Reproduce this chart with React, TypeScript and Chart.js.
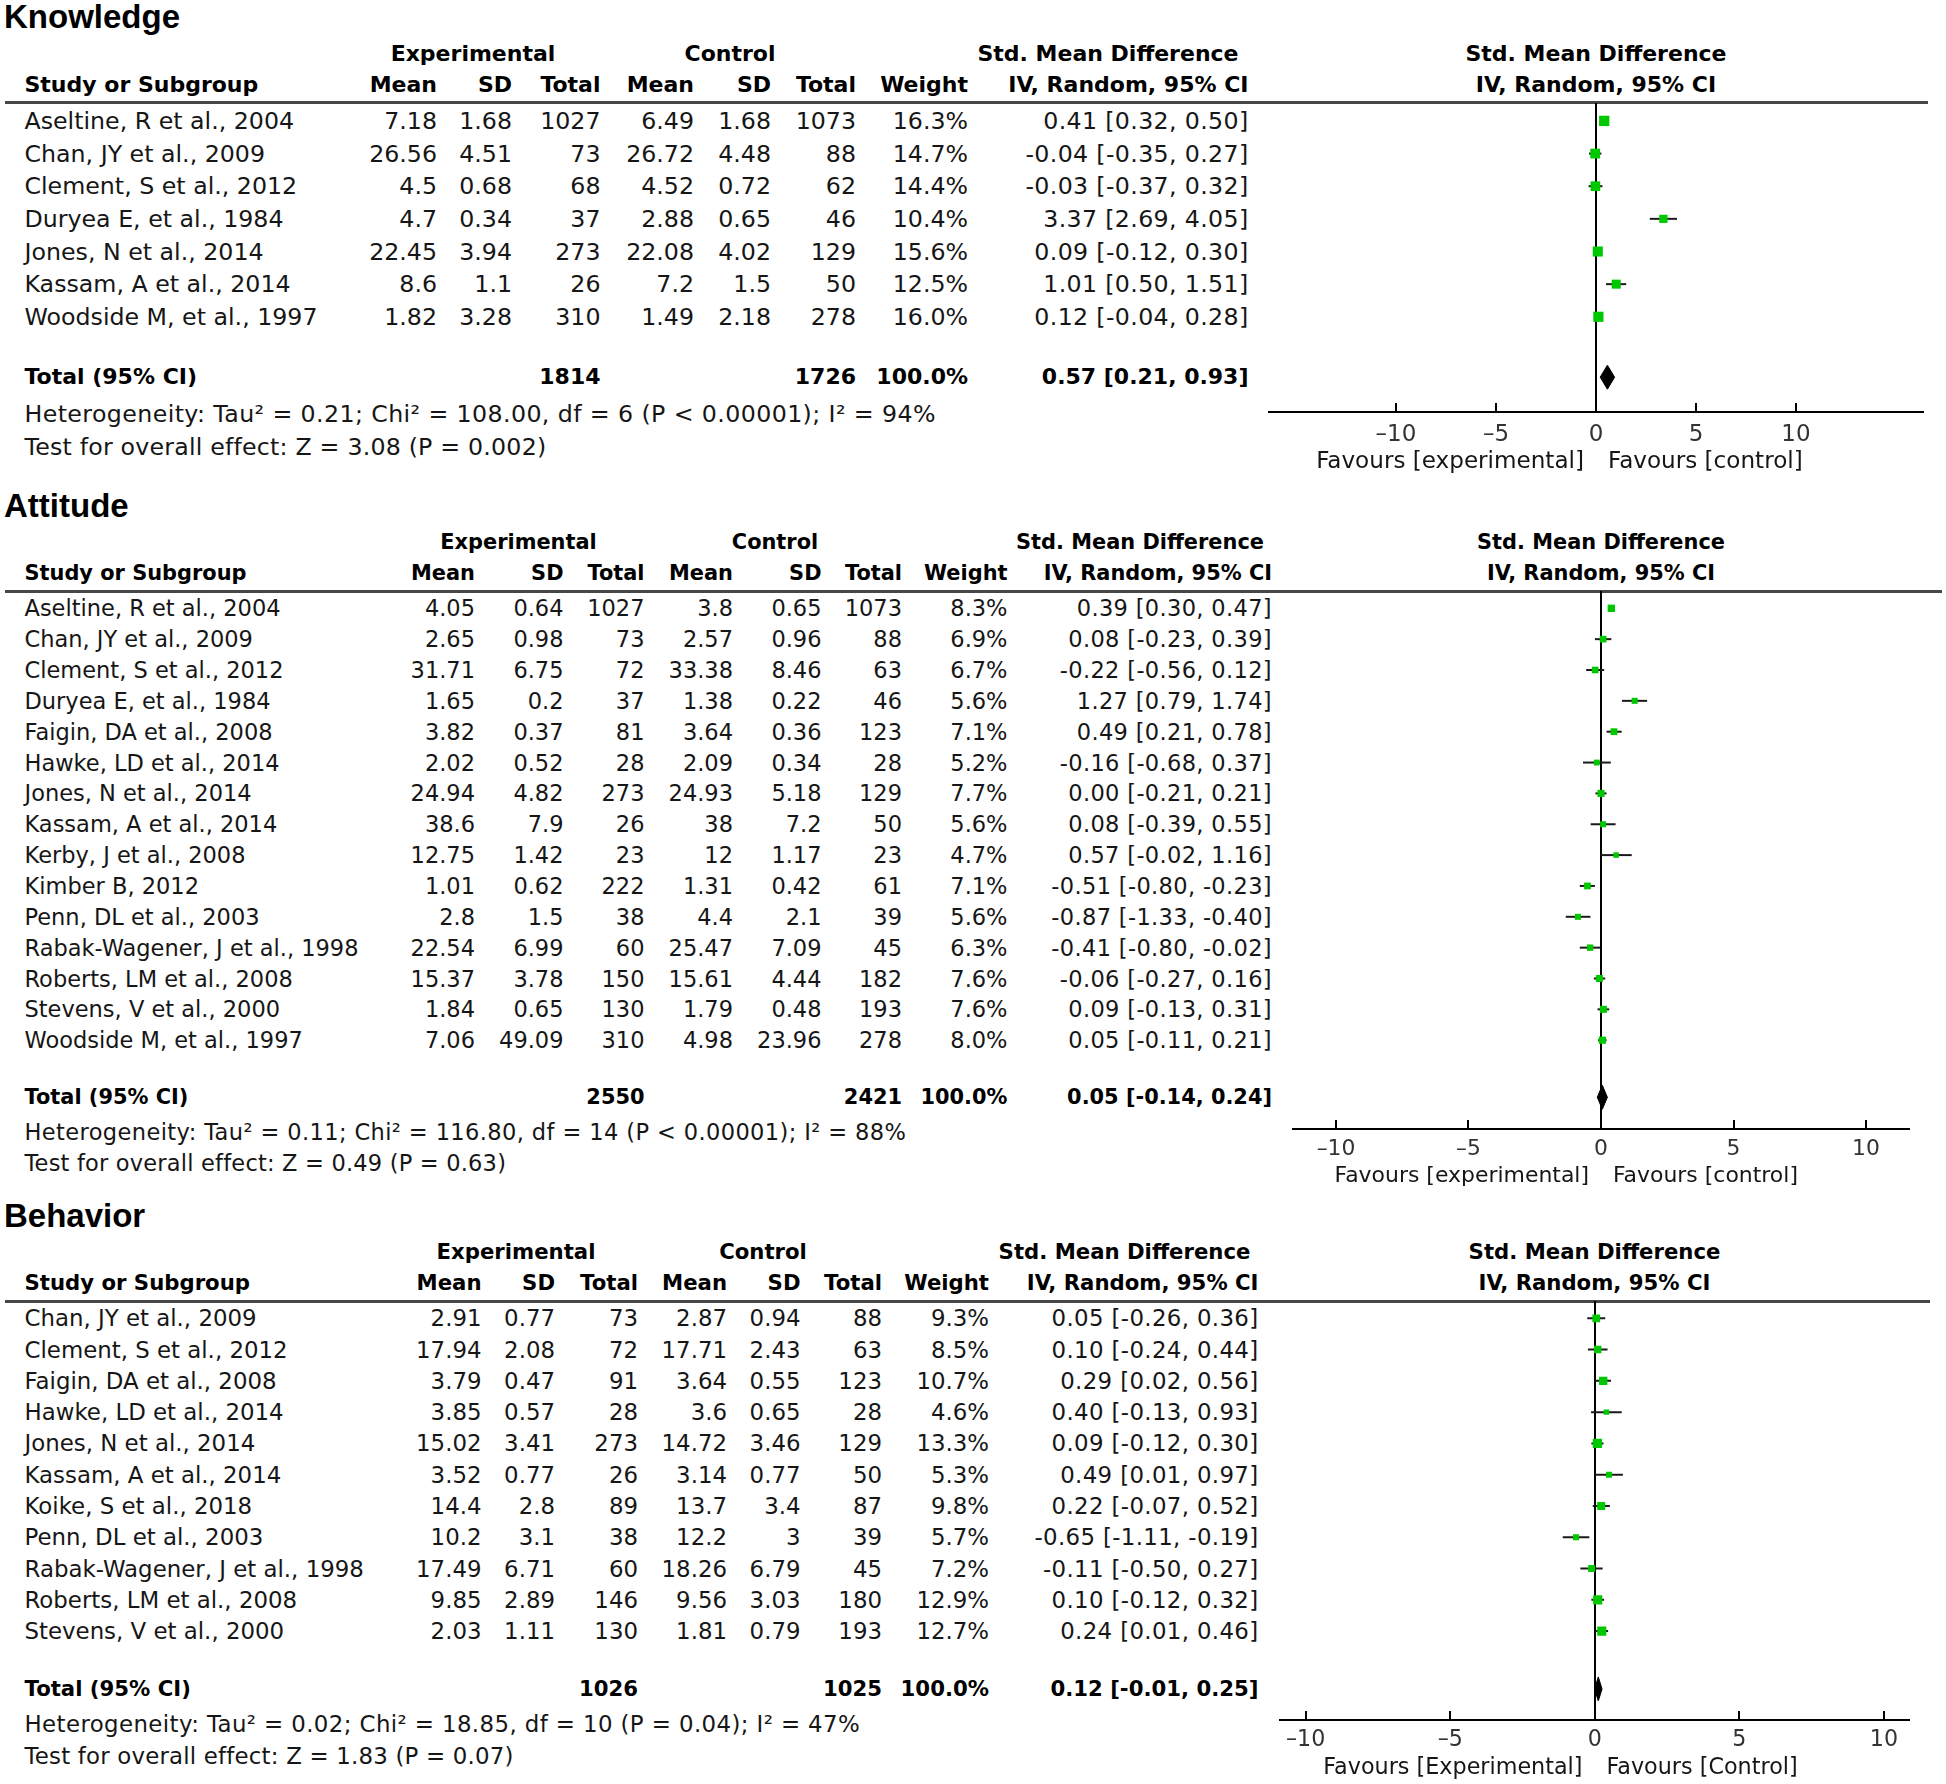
import React, { useEffect, useRef } from "react";
import { Chart, registerables } from "chart.js";

Chart.register(...registerables);

// ---------------- Knowledge ----------------
const knowStudies = [
  "Aseltine, R et al., 2004",
  "Chan, JY et al., 2009",
  "Clement, S et al., 2012",
  "Duryea E, et al., 1984",
  "Jones, N et al., 2014",
  "Kassam, A et al., 2014",
  "Woodside M, et al., 1997",
];
const knowExpMean = [7.18, 26.56, 4.5, 4.7, 22.45, 8.6, 1.82];
const knowExpSD = [1.68, 4.51, 0.68, 0.34, 3.94, 1.1, 3.28];
const knowExpN = [1027, 73, 68, 37, 273, 26, 310];
const knowCtlMean = [6.49, 26.72, 4.52, 2.88, 22.08, 7.2, 1.49];
const knowCtlSD = [1.68, 4.48, 0.72, 0.65, 4.02, 1.5, 2.18];
const knowCtlN = [1073, 88, 62, 46, 129, 50, 278];
const knowWeight = [16.3, 14.7, 14.4, 10.4, 15.6, 12.5, 16.0];
const knowSmd = [0.41, -0.04, -0.03, 3.37, 0.09, 1.01, 0.12];
const knowLo = [0.32, -0.35, -0.37, 2.69, -0.12, 0.5, -0.04];
const knowHi = [0.5, 0.27, 0.32, 4.05, 0.3, 1.51, 0.28];
const knowTotal = { expN: 1814, ctlN: 1726, weight: 100.0, smd: 0.57, lo: 0.21, hi: 0.93 };
const knowHet = "Heterogeneity: Tau\u00b2 = 0.21; Chi\u00b2 = 108.00, df = 6 (P < 0.00001); I\u00b2 = 94%";
const knowTest = "Test for overall effect: Z = 3.08 (P = 0.002)";
const knowFav = ["Favours [experimental]", "Favours [control]"];

// ---------------- Attitude ----------------
const attStudies = [
  "Aseltine, R et al., 2004",
  "Chan, JY et al., 2009",
  "Clement, S et al., 2012",
  "Duryea E, et al., 1984",
  "Faigin, DA et al., 2008",
  "Hawke, LD et al., 2014",
  "Jones, N et al., 2014",
  "Kassam, A et al., 2014",
  "Kerby, J et al., 2008",
  "Kimber B, 2012",
  "Penn, DL et al., 2003",
  "Rabak-Wagener, J et al., 1998",
  "Roberts, LM et al., 2008",
  "Stevens, V et al., 2000",
  "Woodside M, et al., 1997",
];
const attExpMean = [4.05, 2.65, 31.71, 1.65, 3.82, 2.02, 24.94, 38.6, 12.75, 1.01, 2.8, 22.54, 15.37, 1.84, 7.06];
const attExpSD = [0.64, 0.98, 6.75, 0.2, 0.37, 0.52, 4.82, 7.9, 1.42, 0.62, 1.5, 6.99, 3.78, 0.65, 49.09];
const attExpN = [1027, 73, 72, 37, 81, 28, 273, 26, 23, 222, 38, 60, 150, 130, 310];
const attCtlMean = [3.8, 2.57, 33.38, 1.38, 3.64, 2.09, 24.93, 38, 12, 1.31, 4.4, 25.47, 15.61, 1.79, 4.98];
const attCtlSD = [0.65, 0.96, 8.46, 0.22, 0.36, 0.34, 5.18, 7.2, 1.17, 0.42, 2.1, 7.09, 4.44, 0.48, 23.96];
const attCtlN = [1073, 88, 63, 46, 123, 28, 129, 50, 23, 61, 39, 45, 182, 193, 278];
const attWeight = [8.3, 6.9, 6.7, 5.6, 7.1, 5.2, 7.7, 5.6, 4.7, 7.1, 5.6, 6.3, 7.6, 7.6, 8.0];
const attSmd = [0.39, 0.08, -0.22, 1.27, 0.49, -0.16, 0.0, 0.08, 0.57, -0.51, -0.87, -0.41, -0.06, 0.09, 0.05];
const attLo = [0.3, -0.23, -0.56, 0.79, 0.21, -0.68, -0.21, -0.39, -0.02, -0.8, -1.33, -0.8, -0.27, -0.13, -0.11];
const attHi = [0.47, 0.39, 0.12, 1.74, 0.78, 0.37, 0.21, 0.55, 1.16, -0.23, -0.4, -0.02, 0.16, 0.31, 0.21];
const attTotal = { expN: 2550, ctlN: 2421, weight: 100.0, smd: 0.05, lo: -0.14, hi: 0.24 };
const attHet = "Heterogeneity: Tau\u00b2 = 0.11; Chi\u00b2 = 116.80, df = 14 (P < 0.00001); I\u00b2 = 88%";
const attTest = "Test for overall effect: Z = 0.49 (P = 0.63)";
const attFav = ["Favours [experimental]", "Favours [control]"];

// ---------------- Behavior ----------------
const behStudies = [
  "Chan, JY et al., 2009",
  "Clement, S et al., 2012",
  "Faigin, DA et al., 2008",
  "Hawke, LD et al., 2014",
  "Jones, N et al., 2014",
  "Kassam, A et al., 2014",
  "Koike, S et al., 2018",
  "Penn, DL et al., 2003",
  "Rabak-Wagener, J et al., 1998",
  "Roberts, LM et al., 2008",
  "Stevens, V et al., 2000",
];
const behExpMean = [2.91, 17.94, 3.79, 3.85, 15.02, 3.52, 14.4, 10.2, 17.49, 9.85, 2.03];
const behExpSD = [0.77, 2.08, 0.47, 0.57, 3.41, 0.77, 2.8, 3.1, 6.71, 2.89, 1.11];
const behExpN = [73, 72, 91, 28, 273, 26, 89, 38, 60, 146, 130];
const behCtlMean = [2.87, 17.71, 3.64, 3.6, 14.72, 3.14, 13.7, 12.2, 18.26, 9.56, 1.81];
const behCtlSD = [0.94, 2.43, 0.55, 0.65, 3.46, 0.77, 3.4, 3, 6.79, 3.03, 0.79];
const behCtlN = [88, 63, 123, 28, 129, 50, 87, 39, 45, 180, 193];
const behWeight = [9.3, 8.5, 10.7, 4.6, 13.3, 5.3, 9.8, 5.7, 7.2, 12.9, 12.7];
const behSmd = [0.05, 0.1, 0.29, 0.4, 0.09, 0.49, 0.22, -0.65, -0.11, 0.1, 0.24];
const behLo = [-0.26, -0.24, 0.02, -0.13, -0.12, 0.01, -0.07, -1.11, -0.5, -0.12, 0.01];
const behHi = [0.36, 0.44, 0.56, 0.93, 0.3, 0.97, 0.52, -0.19, 0.27, 0.32, 0.46];
const behTotal = { expN: 1026, ctlN: 1025, weight: 100.0, smd: 0.12, lo: -0.01, hi: 0.25 };
const behHet = "Heterogeneity: Tau\u00b2 = 0.02; Chi\u00b2 = 18.85, df = 10 (P = 0.04); I\u00b2 = 47%";
const behTest = "Test for overall effect: Z = 1.83 (P = 0.07)";
const behFav = ["Favours [Experimental]", "Favours [Control]"];

// axis tick values
const tickValues = [-10, -5, 0, 5, 10];
const groupHeaders = ["Experimental", "Control", "Std. Mean Difference"];
const colHeaders = ["Mean", "SD", "Total", "Mean", "SD", "Total", "Weight", "IV, Random, 95% CI"];

// ---------------- styling / layout ----------------
const PAGE_W = 1946;
const PAGE_H = 1784;
const FONT = '"DejaVu Sans", Verdana, sans-serif';
const TITLE_FONT = '"Liberation Sans", Arial, Helvetica, sans-serif';
const REG = 23.7;
const BOLD = 22;
const FAV = 23.1;
const TICK = 23;
const GREEN = "#00c800";
const CI_COLOR = "#1a1a1a";
const TOTAL_GAP = 1.85;
const SQUARE_K = 2.55;
const DIAMOND_HALF = 12;
const AXIS_EXTRA = 44;

type Dat = {
  studies: string[];
  expMean: number[];
  expSD: number[];
  expN: number[];
  ctlMean: number[];
  ctlSD: number[];
  ctlN: number[];
  weight: number[];
  smd: number[];
  lo: number[];
  hi: number[];
  total: { expN: number; ctlN: number; weight: number; smd: number; lo: number; hi: number };
  het: string;
  test: string;
  fav: string[];
};

type Lay = {
  fs: number;
  lineY: number;
  lineRight: number;
  row0: number;
  rowH: number;
  axisY: number;
  axisLeft: number;
  axisRight: number;
  xMin: number;
  xMax: number;
  tickPad: number;
  favOff: number;
  grp: number[];
  cols: number[];
};

const knowData: Dat = {
  studies: knowStudies, expMean: knowExpMean, expSD: knowExpSD, expN: knowExpN,
  ctlMean: knowCtlMean, ctlSD: knowCtlSD, ctlN: knowCtlN, weight: knowWeight,
  smd: knowSmd, lo: knowLo, hi: knowHi, total: knowTotal, het: knowHet, test: knowTest, fav: knowFav,
};
const attData: Dat = {
  studies: attStudies, expMean: attExpMean, expSD: attExpSD, expN: attExpN,
  ctlMean: attCtlMean, ctlSD: attCtlSD, ctlN: attCtlN, weight: attWeight,
  smd: attSmd, lo: attLo, hi: attHi, total: attTotal, het: attHet, test: attTest, fav: attFav,
};
const behData: Dat = {
  studies: behStudies, expMean: behExpMean, expSD: behExpSD, expN: behExpN,
  ctlMean: behCtlMean, ctlSD: behCtlSD, ctlN: behCtlN, weight: behWeight,
  smd: behSmd, lo: behLo, hi: behHi, total: behTotal, het: behHet, test: behTest, fav: behFav,
};

const knowLay: Lay = {
  fs: 1.0,
  lineY: 102.5, lineRight: 1928, row0: 120.9, rowH: 32.65, axisY: 412,
  axisLeft: 1268, axisRight: 1924, xMin: -16.4, xMax: 16.4, tickPad: 9, favOff: 47.5,
  grp: [473, 730, 1108],
  cols: [437, 512, 600.5, 694, 771, 856, 968, 1248.5],
};
const attLay: Lay = {
  fs: 0.95,
  lineY: 591, lineRight: 1942, row0: 608.3, rowH: 30.85, axisY: 1129,
  axisLeft: 1292, axisRight: 1910, xMin: -11.66, xMax: 11.66, tickPad: 7, favOff: 46,
  grp: [518.5, 775, 1140],
  cols: [475, 563.5, 644.5, 733, 821.5, 902, 1007.5, 1272],
};
const behLay: Lay = {
  fs: 0.965,
  lineY: 1301, lineRight: 1930, row0: 1318.3, rowH: 31.28, axisY: 1720,
  axisLeft: 1279, axisRight: 1910, xMin: -10.9, xMax: 10.9, tickPad: 7, favOff: 46,
  grp: [516, 763, 1124.5],
  cols: [481.5, 555, 638, 727, 800.5, 882, 989, 1258.5],
};

const f2 = (v: number) => v.toFixed(2);
const ciText = (m: number, l: number, h: number) => `${f2(m)} [${f2(l)}, ${f2(h)}]`;
const tickText = (v: number) => (v < 0 ? "\u2013" + String(-v) : String(v));

type TProps = {
  x: number;
  y: number;
  align?: "left" | "right" | "center";
  bold?: boolean;
  size: number;
  family?: string;
  color?: string;
  ls?: number;
  children: React.ReactNode;
};

function T({ x, y, align = "left", bold = false, size, family, color, ls, children }: TProps) {
  const H = 40;
  const style: React.CSSProperties = {
    position: "absolute",
    top: y - H / 2,
    height: H,
    lineHeight: H + "px",
    whiteSpace: "pre",
    fontFamily: family || FONT,
    fontSize: size,
    fontWeight: bold ? "bold" : "normal",
    color: color || (bold ? "#000" : "#161616"),
    letterSpacing: ls ? ls + "px" : undefined,
  };
  if (align === "left") style.left = x;
  else if (align === "right") style.right = PAGE_W - x;
  else {
    style.left = x - 500;
    style.width = 1000;
    style.textAlign = "center";
  }
  return <div style={style}>{children}</div>;
}

const tickMarks = {
  id: "tickMarks",
  afterDraw(chart: any) {
    const s = chart.scales.x;
    const ctx = chart.ctx;
    const yb = chart.chartArea.bottom;
    ctx.save();
    ctx.strokeStyle = "#000";
    ctx.lineWidth = 2;
    tickValues.forEach((v) => {
      const x = Math.round(s.getPixelForValue(v));
      ctx.beginPath();
      ctx.moveTo(x, yb);
      ctx.lineTo(x, yb - 9);
      ctx.stroke();
    });
    ctx.restore();
  },
};

function Forest({ d, L }: { d: Dat; L: Lay }) {
  const ref = useRef<HTMLCanvasElement>(null);
  const top = Math.round(L.lineY);
  const W = L.axisRight - L.axisLeft;
  const H = Math.round(L.axisY - top) + AXIS_EXTRA;

  useEffect(() => {
    if (!ref.current) return;
    const n = d.studies.length;
    const yMin = (top - L.row0) / L.rowH;
    const yMax = (Math.round(L.axisY) - L.row0) / L.rowH;
    const totY = n - 1 + TOTAL_GAP;
    const dh = DIAMOND_HALF / L.rowH;

    const datasets: any[] = d.studies.map((s, i) => ({
      type: "line",
      label: s,
      data: [
        { x: d.lo[i], y: i },
        { x: d.hi[i], y: i },
      ],
      borderColor: CI_COLOR,
      borderWidth: 2,
      pointRadius: 0,
      fill: false,
      order: 2,
    }));
    datasets.push({
      type: "scatter",
      label: "Std. Mean Difference",
      data: d.smd.map((v, i) => ({ x: v, y: i })),
      pointStyle: "rect",
      pointRadius: d.weight.map((w) => (SQUARE_K * Math.sqrt(w)) / Math.SQRT2),
      pointHoverRadius: d.weight.map((w) => (SQUARE_K * Math.sqrt(w)) / Math.SQRT2),
      backgroundColor: GREEN,
      borderColor: GREEN,
      borderWidth: 0,
      order: 1,
    });
    datasets.push({
      type: "line",
      label: "Total (95% CI)",
      data: [
        { x: d.total.lo, y: totY },
        { x: d.total.smd, y: totY - dh },
        { x: d.total.hi, y: totY },
        { x: d.total.smd, y: totY + dh },
        { x: d.total.lo, y: totY },
      ],
      borderColor: "#000",
      backgroundColor: "#000",
      borderWidth: 1,
      pointRadius: 0,
      tension: 0,
      fill: "shape",
      order: 0,
    });

    const chart = new Chart(ref.current, {
      type: "scatter",
      data: { datasets },
      options: {
        animation: false,
        responsive: false,
        devicePixelRatio: 1,
        events: [],
        layout: { padding: 0, autoPadding: false },
        plugins: {
          legend: { display: false },
          tooltip: { enabled: false },
          title: { display: false },
        },
        scales: {
          x: {
            type: "linear",
            position: "bottom",
            min: L.xMin,
            max: L.xMax,
            afterBuildTicks: (s: any) => {
              s.ticks = tickValues.map((v) => ({ value: v }));
            },
            afterFit: (s: any) => {
              s.height = AXIS_EXTRA;
            },
            grid: {
              drawOnChartArea: true,
              drawTicks: false,
              lineWidth: 2,
              color: (c: any) => (c.tick && c.tick.value === 0 ? "#000" : "rgba(0,0,0,0)"),
            },
            border: { display: true, color: "#000", width: 2 },
            ticks: {
              font: { family: FONT, size: TICK * L.fs },
              color: "#333",
              padding: L.tickPad,
              maxRotation: 0,
              autoSkip: false,
              callback: (v: any) => tickText(Number(v)),
            },
          },
          y: {
            type: "linear",
            reverse: true,
            min: yMin,
            max: yMax,
            display: false,
          },
        },
      } as any,
      plugins: [tickMarks],
    });
    return () => chart.destroy();
  }, [d, L]);

  return (
    <canvas
      ref={ref}
      width={W}
      height={H}
      style={{ position: "absolute", left: L.axisLeft, top, width: W, height: H }}
    />
  );
}

function Panel({ title, d, L }: { title: string; d: Dat; L: Lay }) {
  const n = d.studies.length;
  const zeroX = L.axisLeft + ((0 - L.xMin) / (L.xMax - L.xMin)) * (L.axisRight - L.axisLeft);
  const totalY = L.row0 + (n - 1 + TOTAL_GAP) * L.rowH;
  const grpY = L.lineY - 49;
  const colY = L.lineY - 17.7;
  const favY = L.axisY + L.favOff;
  const c = L.cols;
  const R = REG * L.fs;
  const B = BOLD * L.fs;
  return (
    <>
      <T x={4} y={L.lineY - 85.5} bold size={33} family={TITLE_FONT}>
        {title}
      </T>
      <T x={L.grp[0]} y={grpY} align="center" bold size={B}>{groupHeaders[0]}</T>
      <T x={L.grp[1]} y={grpY} align="center" bold size={B}>{groupHeaders[1]}</T>
      <T x={L.grp[2]} y={grpY} align="center" bold size={B}>{groupHeaders[2]}</T>
      <T x={zeroX} y={grpY} align="center" bold size={B}>{groupHeaders[2]}</T>
      <T x={24.5} y={colY} bold size={B}>Study or Subgroup</T>
      {colHeaders.map((h, k) => (
        <T key={"h" + k} x={c[k]} y={colY} align="right" bold size={B}>{h}</T>
      ))}
      <T x={zeroX} y={colY} align="center" bold size={B}>{colHeaders[7]}</T>
      <div
        style={{
          position: "absolute",
          left: 5,
          top: L.lineY - 1.5,
          width: L.lineRight - 5,
          height: 3,
          background: "#474747",
        }}
      />
      {d.studies.map((s, i) => {
        const y = L.row0 + i * L.rowH;
        return (
          <React.Fragment key={s}>
            <T x={24.5} y={y} size={R}>{s}</T>
            <T x={c[0]} y={y} align="right" size={R}>{String(d.expMean[i])}</T>
            <T x={c[1]} y={y} align="right" size={R}>{String(d.expSD[i])}</T>
            <T x={c[2]} y={y} align="right" size={R}>{String(d.expN[i])}</T>
            <T x={c[3]} y={y} align="right" size={R}>{String(d.ctlMean[i])}</T>
            <T x={c[4]} y={y} align="right" size={R}>{String(d.ctlSD[i])}</T>
            <T x={c[5]} y={y} align="right" size={R}>{String(d.ctlN[i])}</T>
            <T x={c[6]} y={y} align="right" size={R}>{d.weight[i].toFixed(1) + "%"}</T>
            <T x={c[7]} y={y} align="right" size={R} ls={0.35}>{ciText(d.smd[i], d.lo[i], d.hi[i])}</T>
          </React.Fragment>
        );
      })}
      <T x={24.5} y={totalY} bold size={B}>Total (95% CI)</T>
      <T x={c[2]} y={totalY} align="right" bold size={B}>{String(d.total.expN)}</T>
      <T x={c[5]} y={totalY} align="right" bold size={B}>{String(d.total.ctlN)}</T>
      <T x={c[6]} y={totalY} align="right" bold size={B}>{d.total.weight.toFixed(1) + "%"}</T>
      <T x={c[7]} y={totalY} align="right" bold size={B}>{ciText(d.total.smd, d.total.lo, d.total.hi)}</T>
      <T x={24.5} y={totalY + 1.12 * L.rowH} size={R} ls={0.4}>{d.het}</T>
      <T x={24.5} y={totalY + 2.14 * L.rowH} size={R} ls={0.2}>{d.test}</T>
      <Forest d={d} L={L} />
      <T x={zeroX - 12} y={favY} align="right" size={FAV * L.fs}>{d.fav[0]}</T>
      <T x={zeroX + 12} y={favY} size={FAV * L.fs}>{d.fav[1]}</T>
    </>
  );
}

export default function App() {
  return (
    <div
      style={{
        position: "absolute",
        left: 0,
        top: 0,
        width: PAGE_W,
        height: PAGE_H,
        background: "#fff",
        overflow: "hidden",
      }}
    >
      <Panel title="Knowledge" d={knowData} L={knowLay} />
      <Panel title="Attitude" d={attData} L={attLay} />
      <Panel title="Behavior" d={behData} L={behLay} />
    </div>
  );
}
